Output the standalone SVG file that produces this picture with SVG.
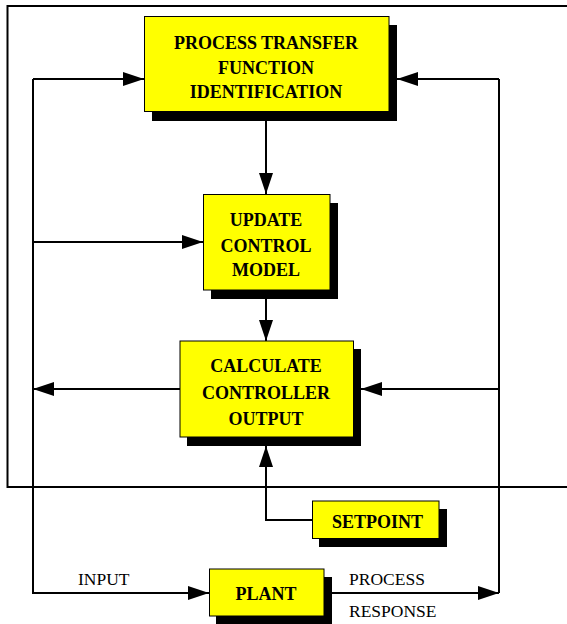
<svg xmlns="http://www.w3.org/2000/svg" width="567" height="624" viewBox="0 0 567 624">
<style>
.box{fill:#ffff00;stroke:#000;stroke-width:1}
.sh{fill:#000}
.c{fill:none;stroke:#000;stroke-width:2}
.t{font-family:'Liberation Serif','Times New Roman',serif;font-weight:bold;font-size:18px;text-anchor:middle;fill:#000}
.l{font-family:'Liberation Serif','Times New Roman',serif;font-size:17.5px;fill:#000}
</style>
<defs>
<marker id="ah" viewBox="0 0 21 14" refX="21" refY="7" markerWidth="21" markerHeight="14" markerUnits="userSpaceOnUse" orient="auto">
<path d="M0,0 L21,7 L0,14 Z" fill="#000"/>
</marker>
</defs>
<rect width="567" height="624" fill="#fff"/>
<path class="c" d="M575,6 H7.5 V487 H575"/>
<g id="connectors">
<path class="c" d="M266,121 V194" marker-end="url(#ah)"/>
<path class="c" d="M266,299 V341" marker-end="url(#ah)"/>
<path class="c" d="M33,79 H144" marker-end="url(#ah)"/>
<path class="c" d="M33,242 H203" marker-end="url(#ah)"/>
<path class="c" d="M180,389 H33" marker-end="url(#ah)"/>
<path class="c" d="M499,389 H361" marker-end="url(#ah)"/>
<path class="c" d="M499,79 H397" marker-end="url(#ah)"/>
<path class="c" d="M312,520 H266 V446" marker-end="url(#ah)"/>
<path class="c" d="M33,79 V593 H209" marker-end="url(#ah)"/>
<path class="c" d="M332,593 H499" marker-end="url(#ah)"/>
<path class="c" d="M499,593 V79"/>
</g>
<g id="ptfi">
<rect class="sh" x="152" y="25" width="245" height="96"/>
<rect class="box" x="144.5" y="16.5" width="244.5" height="95"/>
<text class="t" x="266" y="49">PROCESS TRANSFER</text>
<text class="t" x="266" y="74">FUNCTION</text>
<text class="t" x="266" y="98">IDENTIFICATION</text>
</g>
<g id="update">
<rect class="sh" x="211" y="203" width="127" height="96"/>
<rect class="box" x="203.5" y="194.5" width="126.5" height="95.5"/>
<text class="t" x="266" y="226">UPDATE</text>
<text class="t" x="266" y="252">CONTROL</text>
<text class="t" x="266" y="276">MODEL</text>
</g>
<g id="calc">
<rect class="sh" x="187" y="349" width="174" height="97"/>
<rect class="box" x="180" y="341" width="173.5" height="96"/>
<text class="t" x="266" y="372">CALCULATE</text>
<text class="t" x="266" y="399">CONTROLLER</text>
<text class="t" x="266" y="425">OUTPUT</text>
</g>
<g id="setpoint">
<rect class="sh" x="319" y="509" width="128" height="38"/>
<rect class="box" x="312.5" y="501" width="126.5" height="37.5"/>
<text class="t" x="377.5" y="528">SETPOINT</text>
</g>
<g id="plant">
<rect class="sh" x="216" y="577" width="116" height="47"/>
<rect class="box" x="209.5" y="569" width="114.5" height="47"/>
<text class="t" x="266" y="600">PLANT</text>
</g>
<text class="l" x="78" y="585">INPUT</text>
<text class="l" x="349" y="585">PROCESS</text>
<text class="l" x="349" y="617">RESPONSE</text>
</svg>
